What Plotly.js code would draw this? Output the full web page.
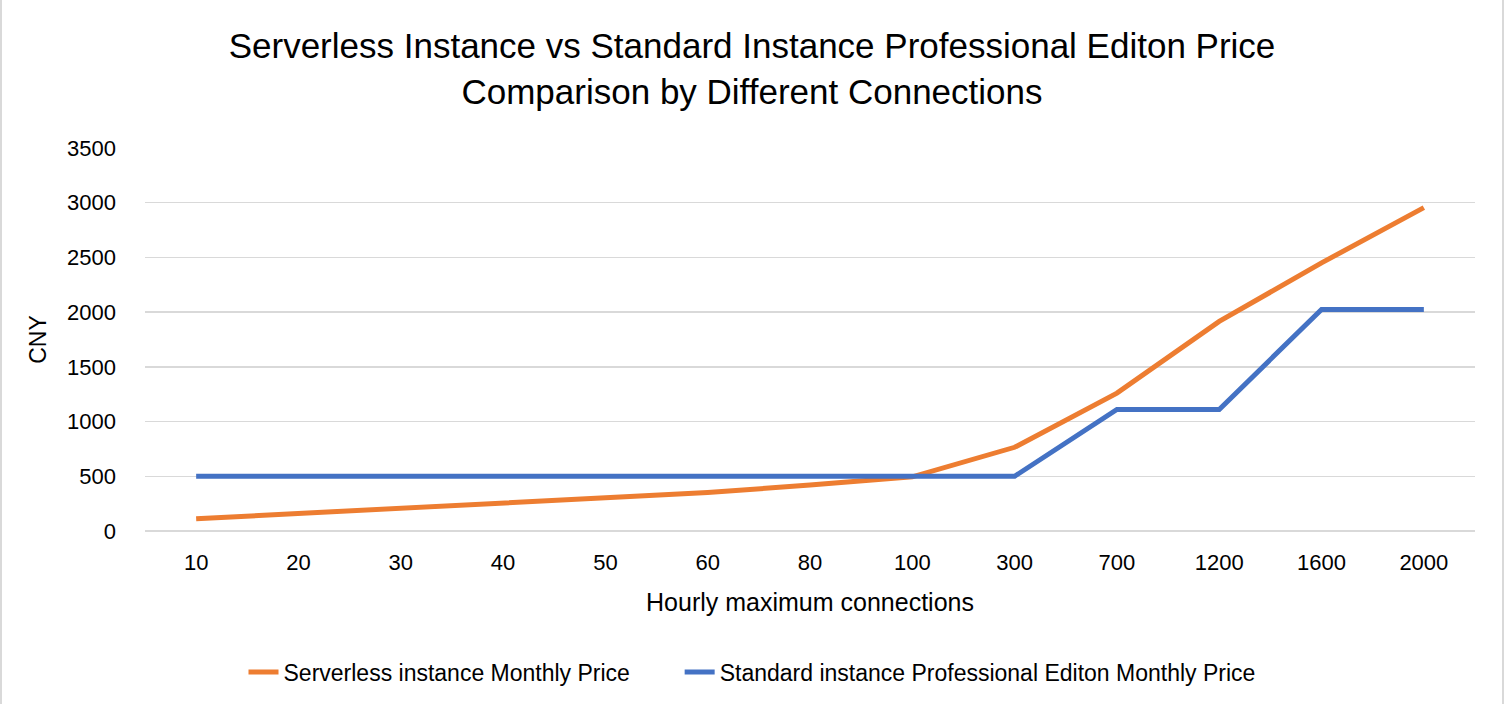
<!DOCTYPE html>
<html>
<head>
<meta charset="utf-8">
<script src="https://cdn.plot.ly/plotly-3.0.1.min.js"></script>
<style>
  html, body { margin: 0; padding: 0; background: #ffffff; }
  #frame { position: relative; width: 1504px; height: 704px; box-sizing: border-box;
           border-left: 2px solid #d9d9d9; border-right: 2px solid #d9d9d9; }
  #chart { position: absolute; left: -2px; top: 0; width: 1504px; height: 704px; }
</style>
</head>
<body>
<div id="frame"><div id="chart"></div></div>
<script>
// Hourly maximum connections (category axis)
const connections = ['10', '20', '30', '40', '50', '60', '80', '100', '300', '700', '1200', '1600', '2000'];

// Monthly prices in CNY
const serverlessPrice = [112, 160, 210, 258, 305, 352, 420, 495, 765, 1260, 1915, 2450, 2955];
const standardProPrice = [500, 500, 500, 500, 500, 500, 500, 500, 500, 1110, 1110, 2025, 2025];

const seriesNames = [
  'Serverless instance Monthly Price',
  'Standard instance Professional Editon Monthly Price'
];

const font = 'Liberation Sans, Arial, sans-serif';
// extra room after the first legend entry
const legendGap = '\u00a0'.repeat(7);

const traces = [
  {
    x: connections, y: serverlessPrice, name: seriesNames[0] + legendGap,
    type: 'scatter', mode: 'lines',
    line: { color: '#ED7D31', width: 5 }
  },
  {
    x: connections, y: standardProPrice, name: seriesNames[1],
    type: 'scatter', mode: 'lines',
    line: { color: '#4472C4', width: 5 }
  }
];

const layout = {
  width: 1504, height: 704,
  paper_bgcolor: 'rgba(0,0,0,0)', plot_bgcolor: '#ffffff',
  margin: { l: 145, r: 29, t: 148, b: 173, autoexpand: false },
  font: { family: font, color: '#000000', size: 22 },
  title: {
    text: 'Serverless Instance vs Standard Instance Professional Editon Price<br>Comparison by Different Connections',
    font: { family: font, size: 35, color: '#000000' },
    x: 0.5, xanchor: 'center', xref: 'container',
    y: 0.917, yanchor: 'middle', yref: 'container'
  },
  xaxis: {
    type: 'category', range: [-0.5, 12.5],
    showgrid: false, zeroline: false, showline: false, ticks: '',
    ticklabelstandoff: 16, tickangle: 0,
    tickfont: { family: font, size: 22 },
    title: { text: 'Hourly maximum connections', font: { family: font, size: 25 }, standoff: 19 }
  },
  yaxis: {
    range: [0, 3500], dtick: 500, tick0: 0,
    showgrid: true, gridcolor: '#d9d9d9', gridwidth: 1.5,
    zeroline: true, zerolinecolor: '#d9d9d9', zerolinewidth: 1.5,
    showline: false, ticks: '',
    ticklabelstandoff: 28,
    tickfont: { family: font, size: 22 },
    title: { text: 'CNY', font: { family: font, size: 23 }, standoff: 13 }
  },
  showlegend: true,
  legend: {
    orientation: 'h', x: 0.5, xanchor: 'center', xref: 'container',
    y: -0.368, yanchor: 'middle',
    font: { family: font, size: 23 },
    traceorder: 'normal', bgcolor: 'rgba(0,0,0,0)'
  }
};

Plotly.newPlot('chart', traces, layout, { displayModeBar: false, staticPlot: true });
</script>
</body>
</html>
